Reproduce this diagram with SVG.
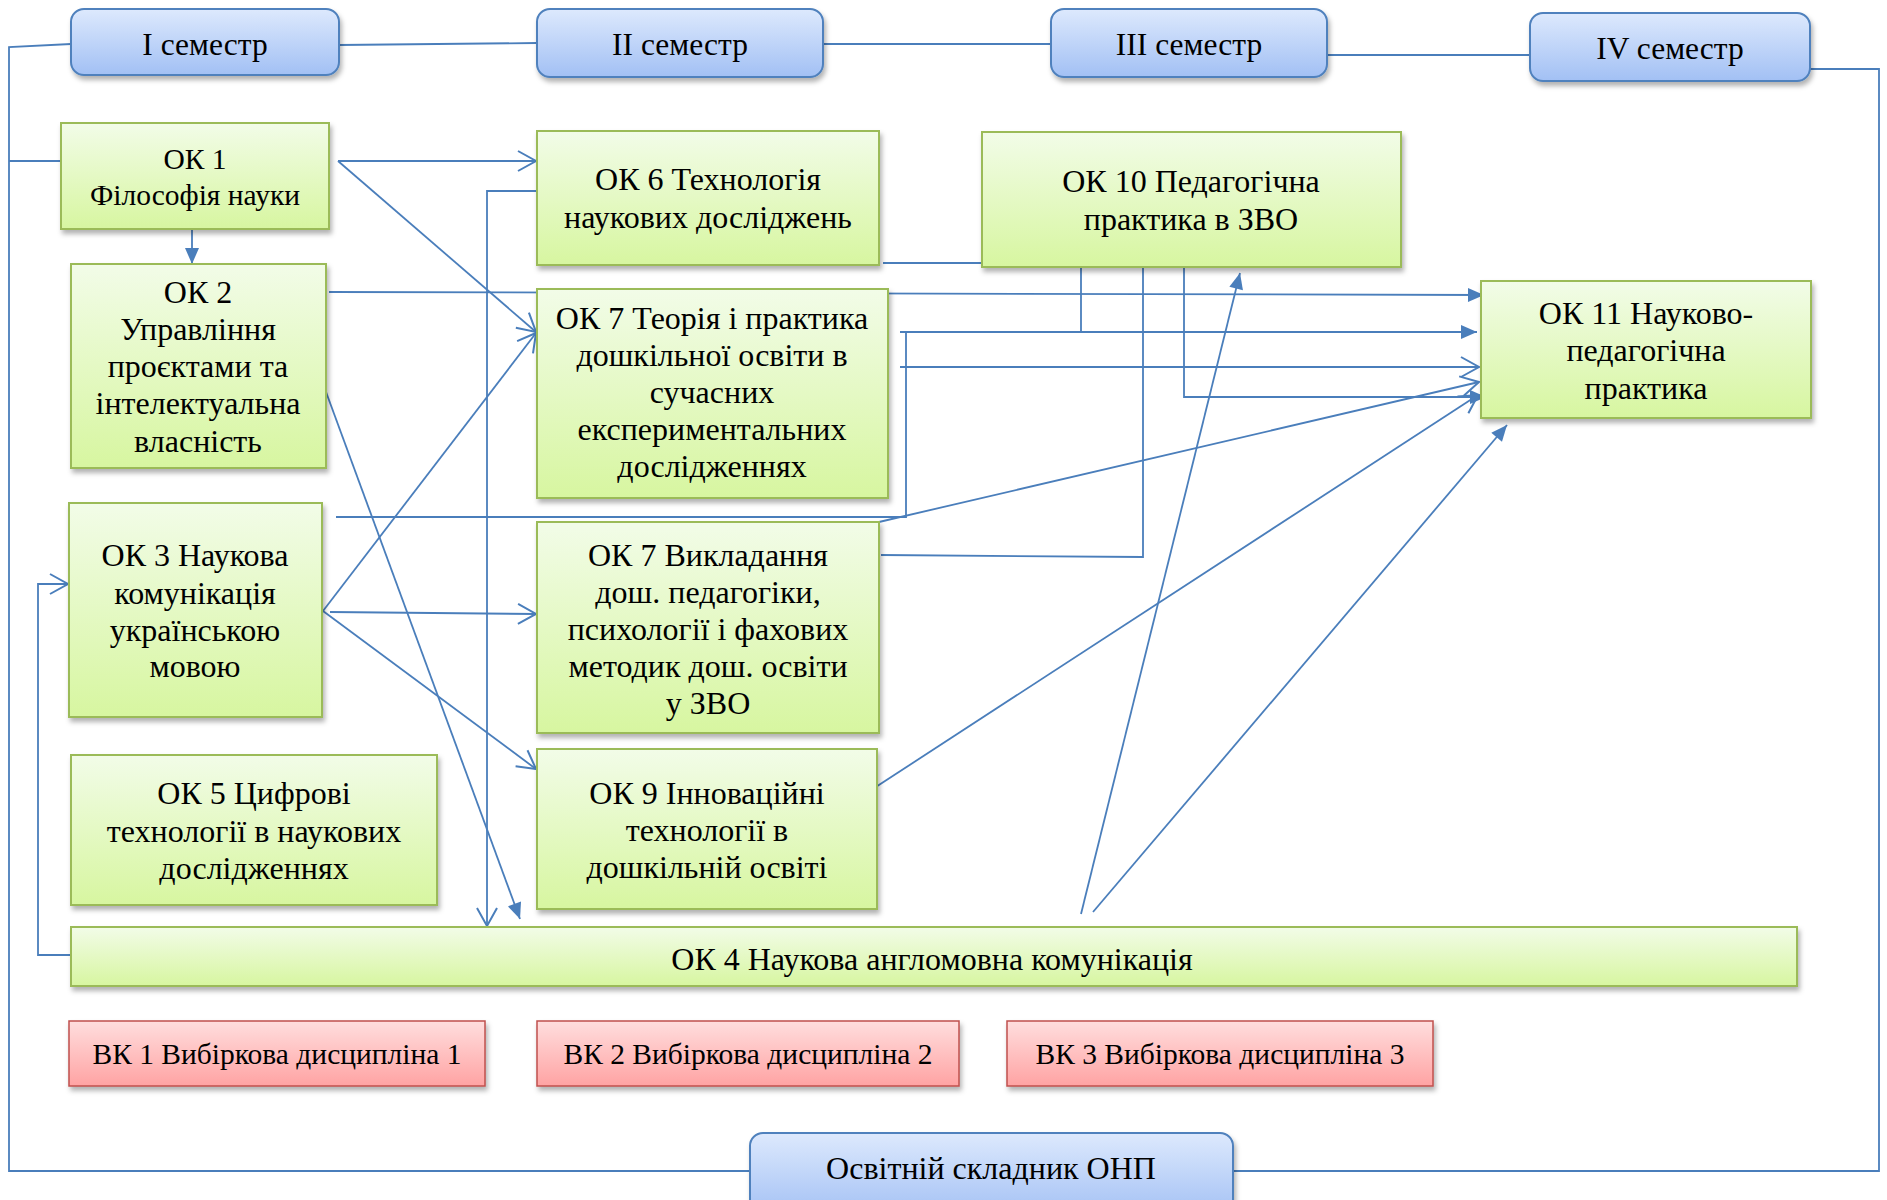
<svg xmlns="http://www.w3.org/2000/svg" width="1887" height="1200" viewBox="0 0 1887 1200">
<defs>
<linearGradient id="gGreen" x1="0" y1="0" x2="0" y2="1"><stop offset="0" stop-color="#f2fce8"/><stop offset="1" stop-color="#d7f6a0"/></linearGradient>
<linearGradient id="gBlue" x1="0" y1="0" x2="0" y2="1"><stop offset="0" stop-color="#dde9fd"/><stop offset="1" stop-color="#a2c0f4"/></linearGradient>
<linearGradient id="gRed" x1="0" y1="0" x2="0" y2="1"><stop offset="0" stop-color="#ffdede"/><stop offset="1" stop-color="#ffa3a3"/></linearGradient>
<filter id="sh" x="-5%" y="-10%" width="110%" height="130%"><feDropShadow dx="2" dy="4" stdDeviation="2.5" flood-color="#000" flood-opacity="0.3"/></filter>
<marker id="open" markerUnits="userSpaceOnUse" viewBox="0 0 20 22" refX="19" refY="11" markerWidth="20" markerHeight="22" orient="auto" overflow="visible"><path d="M1,1 L19,11 L1,21" fill="none" stroke="#4a7ebb" stroke-width="2"/></marker>
<marker id="fill" markerUnits="userSpaceOnUse" viewBox="0 0 16 14" refX="16" refY="7" markerWidth="16" markerHeight="14" orient="auto" overflow="visible"><path d="M0,0 L16,7 L0,14 z" fill="#4a7ebb"/></marker>
<style>
.g{fill:url(#gGreen);stroke:#9bbb59;stroke-width:2;filter:url(#sh)}
.b{fill:url(#gBlue);stroke:#4f81bd;stroke-width:2;filter:url(#sh)}
.r{fill:url(#gRed);stroke:#c0504d;stroke-width:1.5;filter:url(#sh)}
text{font-family:"Liberation Serif","Times New Roman",serif;font-size:32px;fill:#000;text-anchor:middle}
.s{font-size:31.5px}
.m{font-size:29.5px}
.c{fill:none;stroke:#4a7ebb;stroke-width:1.8}
.o{marker-end:url(#open)}
.f{marker-end:url(#fill)}
</style>
</defs>

<g id="connectors">
<polyline class="c" points="339,45 537,43"/>
<polyline class="c" points="823,44 1051,44"/>
<polyline class="c" points="1327,55 1530,55"/>
<polyline class="c" points="1810,69 1879,69 1879,1171 1233,1171"/>
<polyline class="c" points="71,44 9,47 9,1171 750,1171"/>
<polyline class="c" points="9,161 61,161"/>
<line class="c o" x1="338" y1="161" x2="536" y2="161"/>
<line class="c o" x1="338" y1="161" x2="536" y2="332"/>
<line class="c f" x1="192" y1="229" x2="192" y2="264"/>
<line class="c f" x1="329" y1="292" x2="1484" y2="295"/>
<line class="c f" x1="315" y1="362" x2="520" y2="919"/>
<polyline class="c o" points="537,191 487,191 487,926"/>
<polyline class="c f" points="883,263 1184,263 1184,397 1486,397"/>
<line class="c f" x1="900" y1="332" x2="1477" y2="332"/>
<line class="c o" x1="1081" y1="332" x2="1081" y2="237"/>
<line class="c o" x1="900" y1="367" x2="1479" y2="367"/>
<polyline class="c" points="336,517 906,517 906,332"/>
<line class="c o" x1="879" y1="522" x2="1479" y2="382"/>
<polyline class="c o" points="881,555 1143,557 1143,237"/>
<line class="c o" x1="323" y1="611" x2="536" y2="333"/>
<line class="c o" x1="330" y1="612" x2="536" y2="614"/>
<line class="c o" x1="323" y1="611" x2="536" y2="769"/>
<line class="c o" x1="862" y1="796" x2="1478" y2="395"/>
<line class="c f" x1="1081" y1="914" x2="1240" y2="273"/>
<line class="c f" x1="1093" y1="912" x2="1507" y2="425"/>
<polyline class="c o" points="71,955 38,955 38,584 68,584"/>
</g>

<g id="sem1"><rect class="b" x="71" y="9" width="268" height="66" rx="13"/><text class="s" x="205" y="55">I семестр</text></g>
<g id="sem2"><rect class="b" x="537" y="9" width="286" height="68" rx="13"/><text class="s" x="680" y="55">II семестр</text></g>
<g id="sem3"><rect class="b" x="1051" y="9" width="276" height="68" rx="13"/><text class="s" x="1189" y="55">III семестр</text></g>
<g id="sem4"><rect class="b" x="1530" y="13" width="280" height="68" rx="13"/><text class="s" x="1670" y="59">IV семестр</text></g>
<g id="onp"><rect class="b" x="750" y="1133" width="483" height="85" rx="13"/><text x="991" y="1179">Освітній складник ОНП</text></g>

<g id="ok1"><rect class="g" x="61" y="123" width="268" height="106"/><text class="m" x="195" y="169">ОК 1</text><text class="m" x="195" y="205">Філософія науки</text></g>
<g id="ok2"><rect class="g" x="71" y="264" width="255" height="204"/><text x="198" y="303">ОК 2</text><text x="198" y="340">Управління</text><text x="198" y="377">проєктами та</text><text x="198" y="414">інтелектуальна</text><text x="198" y="452">власність</text></g>
<g id="ok3"><rect class="g" x="69" y="503" width="253" height="214"/><text x="195" y="566">ОК 3 Наукова</text><text x="195" y="604">комунікація</text><text x="195" y="641">українською</text><text x="195" y="677">мовою</text></g>
<g id="ok5"><rect class="g" x="71" y="755" width="366" height="150"/><text x="254" y="804">ОК 5 Цифрові</text><text x="254" y="842">технології в наукових</text><text x="254" y="879">дослідженнях</text></g>
<g id="ok6"><rect class="g" x="537" y="131" width="342" height="134"/><text x="708" y="190">ОК 6 Технологія</text><text x="708" y="228">наукових досліджень</text></g>
<g id="ok7a"><rect class="g" x="537" y="289" width="351" height="209"/><text x="712" y="329">ОК 7 Теорія і практика</text><text x="712" y="366">дошкільної освіти в</text><text x="712" y="403">сучасних</text><text x="712" y="440">експериментальних</text><text x="712" y="477">дослідженнях</text></g>
<g id="ok7b"><rect class="g" x="537" y="522" width="342" height="211"/><text x="708" y="566">ОК 7 Викладання</text><text x="708" y="603">дош. педагогіки,</text><text x="708" y="640">психології і фахових</text><text x="708" y="677">методик дош. освіти</text><text x="708" y="714">у ЗВО</text></g>
<g id="ok9"><rect class="g" x="537" y="749" width="340" height="160"/><text x="707" y="804">ОК 9 Інноваційні</text><text x="707" y="841">технології в</text><text x="707" y="878">дошкільній освіті</text></g>
<g id="ok10"><rect class="g" x="982" y="132" width="419" height="135"/><text x="1191" y="192">ОК 10 Педагогічна</text><text x="1191" y="230">практика в ЗВО</text></g>
<g id="ok11"><rect class="g" x="1481" y="281" width="330" height="137"/><text x="1646" y="324">ОК 11 Науково-</text><text x="1646" y="361">педагогічна</text><text x="1646" y="399">практика</text></g>
<g id="ok4"><rect class="g" x="71" y="927" width="1726" height="59"/><text x="932" y="970">ОК 4 Наукова англомовна комунікація</text></g>
<g id="vk1"><rect class="r" x="69" y="1021" width="416" height="65"/><text class="m" x="277" y="1064">ВК 1 Вибіркова дисципліна 1</text></g>
<g id="vk2"><rect class="r" x="537" y="1021" width="422" height="65"/><text class="m" x="748" y="1064">ВК 2 Вибіркова дисципліна 2</text></g>
<g id="vk3"><rect class="r" x="1007" y="1021" width="426" height="65"/><text class="m" x="1220" y="1064">ВК 3 Вибіркова дисципліна 3</text></g>
</svg>
